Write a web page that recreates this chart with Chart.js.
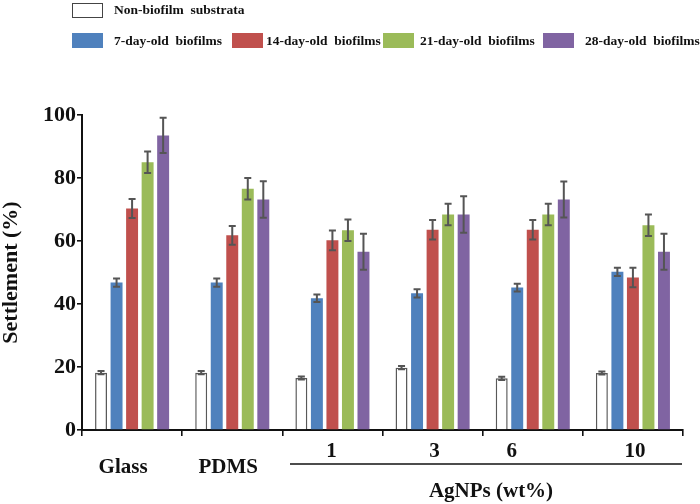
<!DOCTYPE html>
<html>
<head>
<meta charset="utf-8">
<script src="https://cdn.jsdelivr.net/npm/chart.js@4.4.1/dist/chart.umd.min.js"></script>
<style>
  html, body { margin: 0; padding: 0; background: #fff; }
  #wrap { position: relative; width: 700px; height: 504px; }
  #chart { position: absolute; left: 0; top: 0; }
  .lg { position: absolute; font: bold 13.5px "Liberation Serif", serif; color: #111; white-space: pre; line-height: 16px; }
  .box { position: absolute; width: 31px; height: 15px; box-sizing: border-box; }
</style>
</head>
<body>
<div id="wrap">
  <canvas id="chart" width="700" height="504"></canvas>
  <div id="legend"></div>
</div>
<script>
/* data ---------------------------------------------------- */
const categories   = ['Glass', 'PDMS', '1', '3', '6', '10'];
const groupLabel   = 'AgNPs (wt%)';
const yTicks       = [0, 20, 40, 60, 80, 100];

const nonBiofilm    = [18.2, 18.2, 16.5, 19.8, 16.4, 18.1];
const nonBiofilmErr = [0.5, 0.5, 0.5, 0.5, 0.5, 0.5];
const day7          = [46.8, 46.8, 41.8, 43.4, 45.2, 50.2];
const day7Err       = [1.3, 1.3, 1.2, 1.3, 1.2, 1.3];
const day14         = [70.3, 61.8, 60.2, 63.6, 63.6, 48.4];
const day14Err      = [3.0, 3.0, 3.1, 3.1, 3.1, 3.1];
const day21         = [85.0, 76.6, 63.4, 68.4, 68.4, 65.0];
const day21Err      = [3.4, 3.4, 3.4, 3.4, 3.4, 3.4];
const day28         = [93.5, 73.2, 56.6, 68.4, 73.2, 56.6];
const day28Err      = [5.6, 5.8, 5.7, 5.8, 5.7, 5.7];

const seriesNames = ['Non-biofilm  substrata', '7-day-old  biofilms', '14-day-old  biofilms',
                     '21-day-old  biofilms', '28-day-old  biofilms'];

/* styles -------------------------------------------------- */
const FONT = '"Liberation Serif", "Times New Roman", serif';
const fills   = ['#ffffff', '#4f81bd', '#c0504d', '#9bbb59', '#8064a2'];
const borders = ['#595959', '#4f81bd', '#c0504d', '#9bbb59', '#8064a2'];

/* html legend (row 1: substrata, row 2: biofilms) */
const legendPos = [
  { box: [72, 3],  text: [114, 2] },
  { box: [72, 33], text: [114, 33] },
  { box: [232, 33], text: [266, 33] },
  { box: [383, 33], text: [420, 33] },
  { box: [543, 33], text: [585, 33] }
];
const lg = document.getElementById('legend');
seriesNames.forEach((name, i) => {
  const p = legendPos[i];
  const border = i === 0 ? 'border:1.5px solid #444;' : '';
  lg.insertAdjacentHTML('beforeend',
    `<div class="box" style="left:${p.box[0]}px;top:${p.box[1]}px;background:${fills[i]};${border}"></div>` +
    `<span class="lg" style="left:${p.text[0]}px;top:${p.text[1]}px">${name}</span>`);
});

/* error bars ---------------------------------------------- */
const errorBars = {
  id: 'errorBars',
  afterDatasetsDraw(chart) {
    const { ctx } = chart;
    const y = chart.scales.y;
    ctx.save();
    ctx.strokeStyle = '#555';
    ctx.lineWidth = 2;
    chart.data.datasets.forEach((ds, i) => {
      chart.getDatasetMeta(i).data.forEach((bar, j) => {
        const v = ds.data[j], e = ds.errors[j];
        const t = y.getPixelForValue(v + e), b = y.getPixelForValue(v - e);
        ctx.beginPath();
        ctx.moveTo(bar.x, t); ctx.lineTo(bar.x, b);
        ctx.moveTo(bar.x - 3.5, t); ctx.lineTo(bar.x + 3.5, t);
        ctx.moveTo(bar.x - 3.5, b); ctx.lineTo(bar.x + 3.5, b);
        ctx.stroke();
      });
    });
    ctx.restore();
  }
};

/* x labels drawn by hand: substrates lower, AgNPs contents above a rule */
const xLabels = {
  id: 'xLabels',
  afterDraw(chart) {
    const { ctx } = chart;
    const x = chart.scales.x;
    const shift = [-9, -4, -1, 2, -21, 2];
    const rowY  = [468, 468, 452, 452, 452, 452];
    ctx.save();
    ctx.fillStyle = '#111';
    ctx.font = `bold 21px ${FONT}`;
    ctx.textAlign = 'center';
    ctx.textBaseline = 'middle';
    categories.forEach((c, i) => ctx.fillText(c, x.getPixelForValue(i) + shift[i], rowY[i]));
    ctx.strokeStyle = '#111';
    ctx.lineWidth = 1.6;
    ctx.beginPath();
    ctx.moveTo(290, 464); ctx.lineTo(682, 464);
    ctx.stroke();
    ctx.fillText(groupLabel, 491, 492);
    ctx.restore();
  }
};

const mk = (label, data, errors, i) => ({
  label, data, errors,
  backgroundColor: fills[i],
  borderColor: borders[i],
  borderWidth: i === 0 ? 1.5 : 0,
  categoryPercentage: 0.775,
  barPercentage: 0.77
});

new Chart(document.getElementById('chart'), {
  type: 'bar',
  data: {
    labels: categories,
    datasets: [
      mk(seriesNames[0], nonBiofilm, nonBiofilmErr, 0),
      mk(seriesNames[1], day7, day7Err, 1),
      mk(seriesNames[2], day14, day14Err, 2),
      mk(seriesNames[3], day21, day21Err, 3),
      mk(seriesNames[4], day28, day28Err, 4)
    ]
  },
  options: {
    responsive: false,
    animation: false,
    devicePixelRatio: 1,
    layout: { padding: { top: 115, right: 17, bottom: 0, left: 0 } },
    plugins: { legend: { display: false }, tooltip: { enabled: false } },
    scales: {
      x: {
        afterFit: s => { s.height = 74; },
        grid: { offset: true, drawOnChartArea: false, drawTicks: true, tickLength: 6, color: '#111', lineWidth: 1.6 },
        border: { color: '#111', width: 2 },
        ticks: { display: false }
      },
      y: {
        min: 0, max: 100,
        afterFit: s => { s.width = 82; },
        afterBuildTicks: s => { s.ticks = yTicks.map(v => ({ value: v })); },
        grid: { drawOnChartArea: false, tickLength: 5, color: '#111', lineWidth: 1.6 },
        border: { color: '#111', width: 2 },
        ticks: { color: '#111', padding: 1, font: { family: FONT, size: 22, weight: 'bold' } },
        title: {
          display: true, text: 'Settlement (%)', color: '#111',
          font: { family: FONT, size: 22, weight: 'bold', lineHeight: 1 },
          padding: 0
        }
      }
    }
  },
  plugins: [errorBars, xLabels]
});
</script>
</body>
</html>
